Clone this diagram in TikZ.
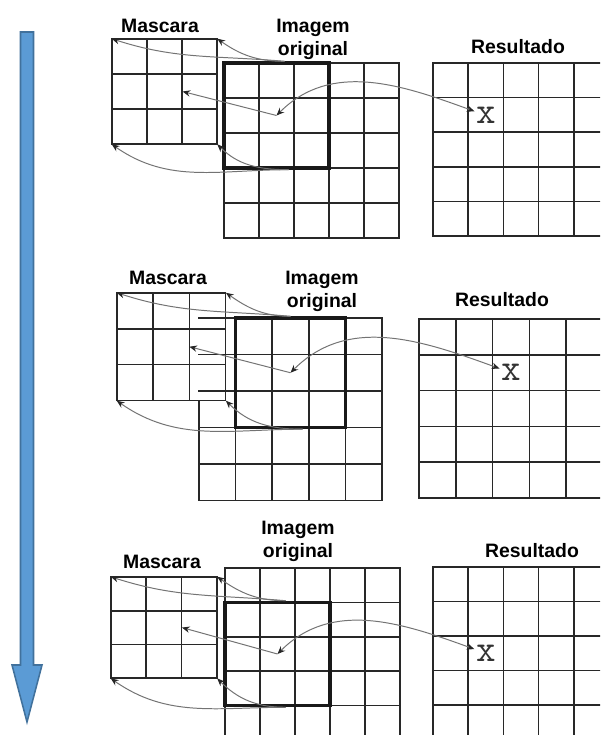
\documentclass[tikz,border=0pt]{standalone}
\usepackage{fontspec}
\setmainfont{Liberation Sans}
\usetikzlibrary{positioning,arrows.meta,fit}
\definecolor{flowblue}{RGB}{91,155,213}
\definecolor{flowedge}{RGB}{65,113,156}
\definecolor{gridgray}{RGB}{40,40,40}

% grid of cells: x, y, columns, rows, cell width, cell height, name
\newcommand{\cellgrid}[7]{%
  \fill[white] (#1,#2) rectangle ++({#3*#5},{#4*#6});
  \foreach \i in {0,...,#3} \draw[gridline] ({#1+\i*#5},#2) -- ++(0,{#4*#6});
  \foreach \j in {0,...,#4} \draw[gridline] (#1,{#2+\j*#6}) -- ++({#3*#5},0);
  \coordinate (#7-nw) at (#1,#2);
  \coordinate (#7-se) at ({#1+#3*#5},{#2+#4*#6});
  \node[fit=(#7-nw)(#7-se), inner sep=0pt] (#7) {};
}

\begin{document}
\begin{tikzpicture}[x=0.025cm, y=-0.025cm,
        gridline/.style={draw=gridgray, line width=1.2pt, line cap=rect},
        window/.style={draw=black!90, line width=2.4pt, inner sep=0pt},
        lbl/.style={font=\bfseries\fontsize{13.8}{16.4}\selectfont, align=center, inner sep=0pt},
        xmark/.style={font=\ttfamily\addfontfeatures{FakeBold=2}\fontsize{27}{27}\selectfont, text=black!80, inner sep=1pt},
        link/.style={->, draw=black!55, line width=0.7pt},
        >={Stealth[length=5.5pt,width=4.5pt,color=black!85]},
        bigarrow/.style={fill=flowblue, draw=flowedge, line width=1.1pt}
    ]
    \useasboundingbox (0,0) rectangle (600,735);
    \clip (0,0) rectangle (600,735);
    \fill[white] (0,0) rectangle (600,735);

    % time arrow
    \draw[bigarrow] (20.5,32) -- (33.5,32) -- (33.5,665) -- (42,665) -- (27,722) -- (12,665) -- (20.5,665) -- cycle;

    % step 1
    \cellgrid{224}{63}{5}{5}{35}{35}{img1}
    \cellgrid{112}{39}{3}{3}{35}{35}{mask1}
    \cellgrid{433}{63}{5}{5}{35.2}{34.6}{res1}
    \node[window, fit={(224,63) (329,168)}] (win1) {};
    \node[lbl] (masc1) at (160,26) {Mascara};
    \node[lbl] (orig1) at (313,39) {Imagem\\original};
    \node[lbl] (rest1) at (518,47) {Resultado};
    \node[xmark] (x1) at (486,115.5) {x};
    \draw[link] ([xshift=2mm]win1.north) to[out=175,in=-18] (mask1.north west);
    \draw[link] ([xshift=2mm]win1.north) to[out=180,in=-35] (mask1.north east);
    \draw[link] ([xshift=3mm]win1.south) to[out=180,in=-35] (mask1.south west);
    \draw[link] ([xshift=3mm]win1.south) to[out=180,in=-45] (mask1.south east);
    \draw[link] (win1.center) -- ([xshift=4.5mm]mask1.center);
    \draw[link, <->] (win1.center) to[out=45,in=160] (x1);

    % step 2
    \cellgrid{199}{318}{5}{5}{36.6}{36.5}{img2}
    \cellgrid{117}{293}{3}{3}{36.2}{35.8}{mask2}
    \foreach \r in {318,354.5,391} \draw[gridline] (199,\r) -- (226,\r);
    \cellgrid{419}{319}{5}{5}{36.8}{35.8}{res2}
    \node[window, fit={(235.6,318) (345.4,427.5)}] (win2) {};
    \node[lbl] (masc2) at (168,278) {Mascara};
    \node[lbl] (orig2) at (322,291) {Imagem\\original};
    \node[lbl] (rest2) at (502,300) {Resultado};
    \node[xmark] (x2) at (511,372.7) {x};
    \draw[link] (win2.north) to[out=175,in=-18] (mask2.north west);
    \draw[link] (win2.north) to[out=180,in=-35] (mask2.north east);
    \draw[link] ([xshift=3mm]win2.south) to[out=180,in=-35] (mask2.south west);
    \draw[link] ([xshift=3mm]win2.south) to[out=180,in=-45] (mask2.south east);
    \draw[link] (win2.center) -- ([xshift=4.5mm]mask2.center);
    \draw[link, <->] (win2.center) to[out=45,in=160] (x2);

    % step 3
    \cellgrid{225}{568}{5}{5}{35}{34.4}{img3}
    \cellgrid{111}{577}{3}{3}{35.3}{33.7}{mask3}
    \cellgrid{433}{567}{5}{5}{35.2}{34.5}{res3}
    \node[window, fit={(225,602.4) (330,705.6)}] (win3) {};
    \node[lbl] (masc3) at (162,562) {Mascara};
    \node[lbl] (orig3) at (298,541) {Imagem\\original};
    \node[lbl] (rest3) at (532,551) {Resultado};
    \node[xmark] (x3) at (485.8,653.3) {x};
    \draw[link] ([xshift=2mm]win3.north) to[out=175,in=-18] (mask3.north west);
    \draw[link] ([xshift=2mm]win3.north) to[out=180,in=-35] (mask3.north east);
    \draw[link] ([xshift=2mm]win3.south) to[out=180,in=-35] (mask3.south west);
    \draw[link] ([xshift=2mm]win3.south) to[out=180,in=-45] (mask3.south east);
    \draw[link] (win3.center) -- ([xshift=4.5mm]mask3.center);
    \draw[link, <->] (win3.center) to[out=45,in=160] (x3);
\end{tikzpicture}
\end{document}
